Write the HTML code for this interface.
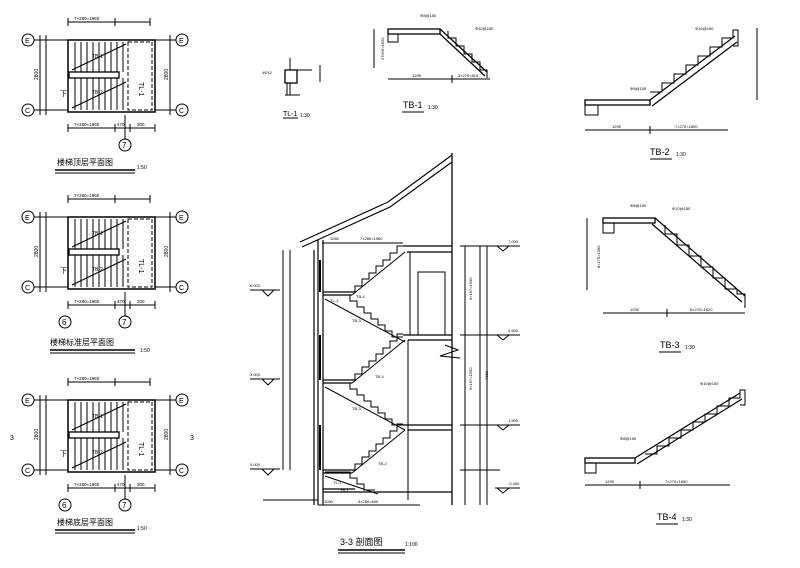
<!DOCTYPE html>
<html><head><meta charset="utf-8"><style>
body{margin:0;background:#fff}
svg{display:block}
text{font-family:"Liberation Sans","Noto Sans CJK SC",sans-serif;fill:#000}
</style></head><body>
<svg width="800" height="568" viewBox="0 0 800 568" xmlns="http://www.w3.org/2000/svg" stroke="#000" fill="none" stroke-width="1">
<defs>
<g id="plan">
  <circle cx="28" cy="40" r="6"/><circle cx="28" cy="110" r="6"/>
  <circle cx="182" cy="40" r="6"/><circle cx="182" cy="110" r="6"/>
  <line x1="34" y1="40" x2="68" y2="40"/><line x1="34" y1="110" x2="68" y2="110"/>
  <line x1="155" y1="40" x2="176" y2="40"/><line x1="155" y1="110" x2="176" y2="110"/>
  <line x1="40" y1="35" x2="40" y2="115"/><line x1="46" y1="35" x2="46" y2="115"/>
  <line x1="170" y1="35" x2="170" y2="115"/>
  <rect x="68" y="40" width="87" height="72" stroke-width="1.5"/>
  <rect x="69" y="72" width="50" height="6" stroke-width="1.3"/>
  <path d="M75 42V72M81 42V72M87 42V72M93 42V72M99 42V72M105 42V72M111 42V72M117 42V72M123 42V72
           M75 78V110M81 78V110M87 78V110M93 78V110M99 78V110M105 78V110M111 78V110M117 78V110M123 78V110"/>
  <line x1="72" y1="70" x2="126" y2="44"/><line x1="72" y1="108" x2="126" y2="82"/>
  <rect x="128" y="42" width="24" height="68" stroke-dasharray="4 2"/>
  <text x="139" y="82" font-size="7" stroke="none" transform="rotate(90 139 82)">TL-1</text>
  <text x="92" y="58" font-size="5" stroke="none">TB-1</text>
  <text x="92" y="94" font-size="5" stroke="none">TB-2</text>
  <text x="60" y="96" font-size="7" stroke="none">下</text>
  <line x1="68" y1="22" x2="150" y2="22"/><line x1="68" y1="18" x2="68" y2="26"/><line x1="115" y1="18" x2="115" y2="26"/><line x1="150" y1="18" x2="150" y2="26"/>
  <text x="74" y="20" font-size="4.5" stroke="none">7×280=1960</text>
  <line x1="68" y1="128" x2="155" y2="128"/><line x1="68" y1="124" x2="68" y2="132"/><line x1="115" y1="124" x2="115" y2="132"/><line x1="130" y1="124" x2="130" y2="132"/><line x1="155" y1="124" x2="155" y2="132"/>
  <text x="74" y="126" font-size="4.5" stroke="none">7×280=1960</text>
  <text x="117" y="126" font-size="4.5" stroke="none">470</text><text x="137" y="126" font-size="4.5" stroke="none">300</text>
  <line x1="125" y1="115" x2="125" y2="139"/>
  <circle cx="125" cy="145" r="6"/><text x="122" y="148" font-size="8" stroke="none">7</text>
  <text x="38" y="80" font-size="5" stroke="none" transform="rotate(-90 38 80)">2800</text>
  <text x="168" y="80" font-size="5" stroke="none" transform="rotate(-90 168 80)">2800</text>
  <text x="25" y="43" font-size="7" stroke="none">E</text><text x="25" y="113" font-size="7" stroke="none">C</text>
  <text x="179" y="43" font-size="7" stroke="none">E</text><text x="179" y="113" font-size="7" stroke="none">C</text>
</g>
</defs>

<!-- plans -->
<use href="#plan" x="0" y="0"/>
<text x="57" y="165" font-size="8" stroke="none">楼梯顶层平面图</text><text x="137" y="169" font-size="5" stroke="none">1:50</text>
<line x1="55" y1="170" x2="135" y2="170" stroke-width="1.5"/><line x1="55" y1="173" x2="135" y2="173"/>
<use href="#plan" x="0" y="177"/>
<circle cx="65" cy="322" r="6"/><text x="62" y="325" font-size="8" stroke="none">6</text>
<text x="50" y="345" font-size="8" stroke="none">楼梯标准层平面图</text><text x="140" y="352" font-size="5" stroke="none">1:50</text>
<line x1="50" y1="350" x2="135" y2="350" stroke-width="1.5"/><line x1="50" y1="353" x2="135" y2="353"/>
<use href="#plan" x="0" y="360"/>
<circle cx="65" cy="505" r="6"/><text x="62" y="508" font-size="8" stroke="none">6</text>
<text x="10" y="440" font-size="7" stroke="none">3</text><text x="190" y="440" font-size="7" stroke="none">3</text>
<text x="57" y="525" font-size="8" stroke="none">楼梯底层平面图</text><text x="137" y="530" font-size="5" stroke="none">1:50</text>
<line x1="55" y1="530" x2="135" y2="530" stroke-width="1.5"/><line x1="55" y1="533" x2="135" y2="533"/>

<!-- TL-1 -->
<rect x="285" y="70" width="12" height="13" stroke-width="1.3"/>
<path d="M290 58V70M297 70H312M290 83V95M287 83V95M285 95H300"/>
<line x1="320" y1="65" x2="320" y2="82"/>
<text x="262" y="74" font-size="4" stroke="none">4Φ12</text>
<text x="283" y="116" font-size="7" stroke="none">TL-1</text><text x="300" y="117" font-size="5" stroke="none">1:30</text>
<line x1="283" y1="118" x2="298" y2="118"/>

<!-- TB-1 -->
<rect x="388" y="29" width="52" height="5" stroke-width="1.3"/>
<path d="M388 34V42H398V34"/>
<path d="M440 29L487 72M440 34L485 76" stroke-width="1.2"/>
<path d="M448 31V38H456V46H464V54H472V62H480V70H487V78"/>
<line x1="374" y1="29" x2="374" y2="68"/>
<line x1="388" y1="79" x2="490" y2="79"/><line x1="452" y1="75" x2="452" y2="83"/>
<text x="384" y="60" font-size="4" stroke="none" transform="rotate(-90 384 60)">270×6=1620</text>
<text x="412" y="77" font-size="4" stroke="none">1295</text><text x="458" y="77" font-size="4" stroke="none">3×270=810</text>
<text x="420" y="17" font-size="4" stroke="none">Φ8@150</text><text x="475" y="30" font-size="4" stroke="none">Φ10@150</text>
<text x="403" y="108" font-size="9" stroke="none">TB-1</text><text x="428" y="109" font-size="5" stroke="none">1:30</text>
<line x1="402" y1="112" x2="424" y2="112"/>

<!-- TB-2 -->
<rect x="585" y="100" width="65" height="5" stroke-width="1.3"/>
<path d="M585 105V115H598V105"/>
<path d="M650 100L735 36M652 106L737 42" stroke-width="1.2"/>
<path d="M650 92H662V83H674V74H686V65H698V56H710V47H722V38H733V30H738V46H733"/>
<line x1="585" y1="130" x2="728" y2="130"/><line x1="650" y1="126" x2="650" y2="134"/>
<line x1="757" y1="28" x2="757" y2="100"/>
<text x="612" y="128" font-size="4" stroke="none">1295</text><text x="675" y="128" font-size="4" stroke="none">7×270=1890</text>
<text x="630" y="90" font-size="4" stroke="none">Φ8@150</text><text x="695" y="30" font-size="4" stroke="none">Φ10@150</text>
<text x="650" y="155" font-size="9" stroke="none">TB-2</text><text x="676" y="156" font-size="5" stroke="none">1:30</text>
<line x1="650" y1="159" x2="672" y2="159"/>

<!-- TB-3 -->
<rect x="603" y="218" width="52" height="5" stroke-width="1.3"/>
<path d="M603 223V233H614V223"/>
<path d="M655 218L745 296M652 224L742 302" stroke-width="1.2"/>
<path d="M665 225V234H677V245H689V256H701V267H713V278H725V289H737V294H745V307H744"/>
<line x1="587" y1="218" x2="587" y2="290"/>
<line x1="603" y1="313" x2="745" y2="313"/><line x1="667" y1="309" x2="667" y2="317"/>
<text x="600" y="268" font-size="4" stroke="none" transform="rotate(-90 600 268)">8×170=1360</text>
<text x="630" y="311" font-size="4" stroke="none">1295</text><text x="690" y="311" font-size="4" stroke="none">6×270=1620</text>
<text x="630" y="207" font-size="4" stroke="none">Φ8@150</text><text x="672" y="210" font-size="4" stroke="none">Φ10@150</text>
<text x="660" y="348" font-size="9" stroke="none">TB-3</text><text x="685" y="349" font-size="5" stroke="none">1:30</text>
<line x1="659" y1="352" x2="681" y2="352"/>

<!-- TB-4 -->
<rect x="585" y="458" width="50" height="5" stroke-width="1.3"/>
<path d="M585 463V473H596V463"/>
<path d="M635 458L740 393M637 464L742 399" stroke-width="1.2"/>
<path d="M645 454H657V446H669V438H681V430H693V422H705V414H717V406H729V398H740V390H745V405H740"/>
<line x1="585" y1="485" x2="730" y2="485"/><line x1="640" y1="481" x2="640" y2="489"/>
<text x="605" y="483" font-size="4" stroke="none">1295</text><text x="665" y="483" font-size="4" stroke="none">7×270=1890</text>
<text x="620" y="440" font-size="4" stroke="none">Φ8@150</text><text x="700" y="385" font-size="4" stroke="none">Φ10@150</text>
<text x="657" y="520" font-size="9" stroke="none">TB-4</text><text x="682" y="521" font-size="5" stroke="none">1:30</text>
<line x1="656" y1="524" x2="678" y2="524"/>

<!-- Section 3-3 -->
<defs>
<g id="upfl"><path d="M355 292V286H362V279H369V273H376V266H383V260H390V253H397V246H403"/><line x1="352" y1="295" x2="405" y2="252"/></g>
<g id="dnfl"><path d="M325 295H350V301H357V307H364V313H371V319H378V325H385V331H392V337H403"/><line x1="325" y1="299" x2="405" y2="342"/></g>
</defs>
<path d="M300 242L388 202L452 155M302 247L390 207L452 162" stroke-width="1.1"/>
<line x1="452" y1="153" x2="452" y2="505" stroke-width="1.3"/>
<path d="M318 240V505M323 240V505M314 250V505" stroke-width="1.2"/>
<path d="M320 260V292M320 335V380M320 425V470" stroke-width="2"/>
<use href="#upfl"/>
<use href="#dnfl"/>
<use href="#upfl" y="88"/>
<use href="#dnfl" y="88"/>
<use href="#upfl" y="178"/>
<path d="M325 472H350V478H357V484H364V490H375M325 476L378 494"/>
<path d="M323 292H355M323 295H352M323 380H355M323 383H352M323 470H355M323 473H352" stroke-width="1.2"/>
<path d="M403 246H452M407 252H452M403 335H452M408 340H452M403 425H452M408 430H452M323 492H452M323 489H355" stroke-width="1.2"/>
<path d="M408 340V500M410 252V335"/>
<rect x="418" y="272" width="27" height="63"/>
<path d="M445 345L458 350L440 356L460 358"/>
<line x1="263" y1="500" x2="318" y2="500"/>
<line x1="283" y1="250" x2="283" y2="470"/><line x1="290" y1="250" x2="290" y2="470"/>
<path d="M262 290L268 296L274 290ZM262 379L268 385L274 379ZM262 469L268 475L274 469Z"/>
<line x1="250" y1="290" x2="280" y2="290"/><line x1="250" y1="379" x2="280" y2="379"/><line x1="250" y1="469" x2="280" y2="469"/>
<text x="250" y="287" font-size="4" stroke="none">6.000</text><text x="250" y="376" font-size="4" stroke="none">3.000</text><text x="250" y="466" font-size="4" stroke="none">0.000</text>
<line x1="465" y1="246" x2="465" y2="505"/><line x1="480" y1="246" x2="480" y2="505"/><line x1="487" y1="246" x2="487" y2="505"/>
<path d="M460 246H500M460 335H500M460 425H500M460 470H500M495 246H520M495 335H520M495 425H520M495 488H520"/>
<path d="M497 246L503 251L509 246ZM497 335L503 340L509 335ZM497 425L503 430L509 425ZM497 488L503 493L509 488Z"/>
<text x="508" y="243" font-size="4" stroke="none">7.000</text><text x="508" y="332" font-size="4" stroke="none">4.500</text><text x="508" y="422" font-size="4" stroke="none">1.500</text><text x="508" y="485" font-size="4" stroke="none">-0.450</text>
<text x="472" y="300" font-size="4" stroke="none" transform="rotate(-90 472 300)">9×167=1500</text>
<text x="472" y="390" font-size="4" stroke="none" transform="rotate(-90 472 390)">9×167=1500</text>
<text x="488" y="380" font-size="4" stroke="none" transform="rotate(-90 488 380)">7450</text>
<text x="330" y="240" font-size="4" stroke="none">1050</text><text x="360" y="240" font-size="4" stroke="none">7×280=1960</text>
<line x1="322" y1="243" x2="403" y2="243"/>
<text x="356" y="298" font-size="4" stroke="none">TB-4</text><text x="330" y="302" font-size="4" stroke="none">TL-1</text><text x="352" y="322" font-size="4" stroke="none">TB-3</text>
<text x="375" y="378" font-size="4" stroke="none">TB-4</text><text x="352" y="410" font-size="4" stroke="none">TB-3</text><text x="378" y="465" font-size="4" stroke="none">TB-2</text>
<text x="333" y="484" font-size="4" stroke="none">TL-1</text><text x="340" y="492" font-size="4" stroke="none">TB-1</text>
<line x1="318" y1="505" x2="420" y2="505"/>
<text x="324" y="503" font-size="4" stroke="none">1050</text><text x="358" y="503" font-size="4" stroke="none">3×280=840</text>
<text x="340" y="545" font-size="9" stroke="none">3-3 剖面图</text><text x="405" y="546" font-size="5" stroke="none">1:100</text>
<line x1="338" y1="550" x2="405" y2="550" stroke-width="1.5"/><line x1="338" y1="553" x2="405" y2="553"/>
</svg>
</body></html>
